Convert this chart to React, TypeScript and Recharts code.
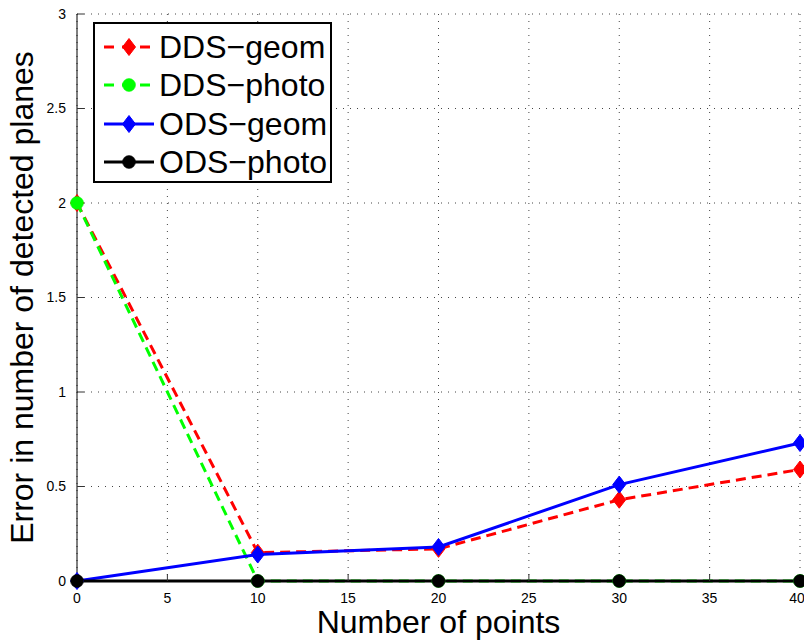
import { CartesianGrid, Line, LineChart, XAxis, YAxis } from "recharts";

const points = [0, 10, 20, 30, 40];
const ddsGeom = [2, 0.15, 0.17, 0.43, 0.59];
const ddsPhoto = [2, 0, 0, 0, 0];
const odsGeom = [0, 0.14, 0.18, 0.51, 0.73];
const odsPhoto = [0, 0, 0, 0, 0];

const xTicks = [0, 5, 10, 15, 20, 25, 30, 35, 40];
const yTicks = [0, 0.5, 1, 1.5, 2, 2.5, 3];

const seriesList = [
  { key: "ddsGeom", name: "DDS\u2212geom", color: "#ff0000", dashed: true, marker: "diamond" },
  { key: "ddsPhoto", name: "DDS\u2212photo", color: "#00ff00", dashed: true, marker: "circle" },
  { key: "odsGeom", name: "ODS\u2212geom", color: "#0000ff", dashed: false, marker: "diamond" },
  { key: "odsPhoto", name: "ODS\u2212photo", color: "#000000", dashed: false, marker: "circle" },
];

const data = points.map((p, i) => ({
  points: p,
  ddsGeom: ddsGeom[i],
  ddsPhoto: ddsPhoto[i],
  odsGeom: odsGeom[i],
  odsPhoto: odsPhoto[i],
}));

const FONT = "'Liberation Sans', Arial, Helvetica, sans-serif";

function Marker({ cx, cy, color, shape }: { cx?: number; cy?: number; color: string; shape: string }) {
  if (cx == null || cy == null) return null;
  if (shape === "diamond") {
    return (
      <polygon
        points={`${cx},${cy - 8.5} ${cx + 6.5},${cy} ${cx},${cy + 8.5} ${cx - 6.5},${cy}`}
        fill={color}
        stroke={color}
        strokeWidth={1}
      />
    );
  }
  return <circle cx={cx} cy={cy} r={6.5} fill={color} stroke={color} strokeWidth={0.5} />;
}

function LegendBox() {
  return (
    <div
      style={{
        position: "absolute",
        left: 93,
        top: 22,
        width: 235,
        height: 153,
        background: "#fff",
        border: "2px solid #000",
        fontFamily: FONT,
        paddingTop: 4,
        boxSizing: "content-box",
      }}
    >
      {seriesList.map((s) => (
        <div key={s.key} style={{ display: "flex", alignItems: "center", height: 38.3 }}>
          <svg width={54} height={22} style={{ marginLeft: 7, flex: "none" }}>
            <line
              x1={2}
              y1={11}
              x2={52}
              y2={11}
              stroke={s.color}
              strokeWidth={3}
              strokeDasharray={s.dashed ? "10 8" : undefined}
            />
            <Marker cx={27} cy={11} color={s.color} shape={s.marker} />
          </svg>
          <span style={{ fontSize: 32, color: "#000", marginLeft: 3, lineHeight: 1 }}>{s.name}</span>
        </div>
      ))}
    </div>
  );
}

const YLabel = (props: { viewBox?: { x: number; y: number; width: number; height: number } }) => {
  const vb = props.viewBox;
  if (!vb) return null;
  const cy = vb.y + vb.height / 2;
  return (
    <text x={33} y={cy} transform={`rotate(-90, 33, ${cy})`} textAnchor="middle" fontSize={32} fill="#000" fontFamily={FONT}>
      Error in number of detected planes
    </text>
  );
};

const XLabel = (props: { viewBox?: { x: number; y: number; width: number; height: number } }) => {
  const vb = props.viewBox;
  if (!vb) return null;
  return (
    <text x={vb.x + vb.width / 2} y={633} textAnchor="middle" fontSize={32} fill="#000" fontFamily={FONT}>
      Number of points
    </text>
  );
};

export default function App() {
  return (
    <div style={{ position: "absolute", left: 0, top: 0, width: 804, height: 644, background: "#fff" }}>
      <LineChart
        width={804}
        height={644}
        data={data}
        margin={{ top: 14, right: 4, bottom: 0, left: 0 }}
        style={{ fontFamily: FONT }}
      >
        <CartesianGrid
          stroke="#444"
          strokeDasharray="1 6"
          strokeWidth={1}
          horizontalValues={yTicks}
          verticalValues={xTicks}
        />
        <XAxis
          dataKey="points"
          type="number"
          domain={[0, 40]}
          ticks={xTicks}
          tickSize={-7}
          tickMargin={19}
          tickLine={{ stroke: "#333" }}
          axisLine={{ stroke: "#000", strokeWidth: 1 }}
          tick={{ fontSize: 14, fill: "#000" }}
          height={63}
          label={<XLabel />}
        />
        <YAxis
          type="number"
          domain={[0, 3]}
          ticks={yTicks}
          tickSize={-7}
          tickMargin={18}
          tickLine={{ stroke: "#333" }}
          axisLine={{ stroke: "#000", strokeWidth: 1 }}
          tick={{ fontSize: 14, fill: "#000" }}
          width={77}
          label={<YLabel />}
        />
        {seriesList.map((s) => (
          <Line
            key={s.key}
            type="linear"
            dataKey={s.key}
            name={s.name}
            stroke={s.color}
            strokeWidth={3}
            strokeDasharray={s.dashed ? "10 6" : undefined}
            dot={(props: { cx?: number; cy?: number; index?: number }) => (
              <Marker key={`${s.key}-${props.index}`} cx={props.cx} cy={props.cy} color={s.color} shape={s.marker} />
            )}
            activeDot={false}
            isAnimationActive={false}
          />
        ))}
      </LineChart>
      <LegendBox />
    </div>
  );
}
